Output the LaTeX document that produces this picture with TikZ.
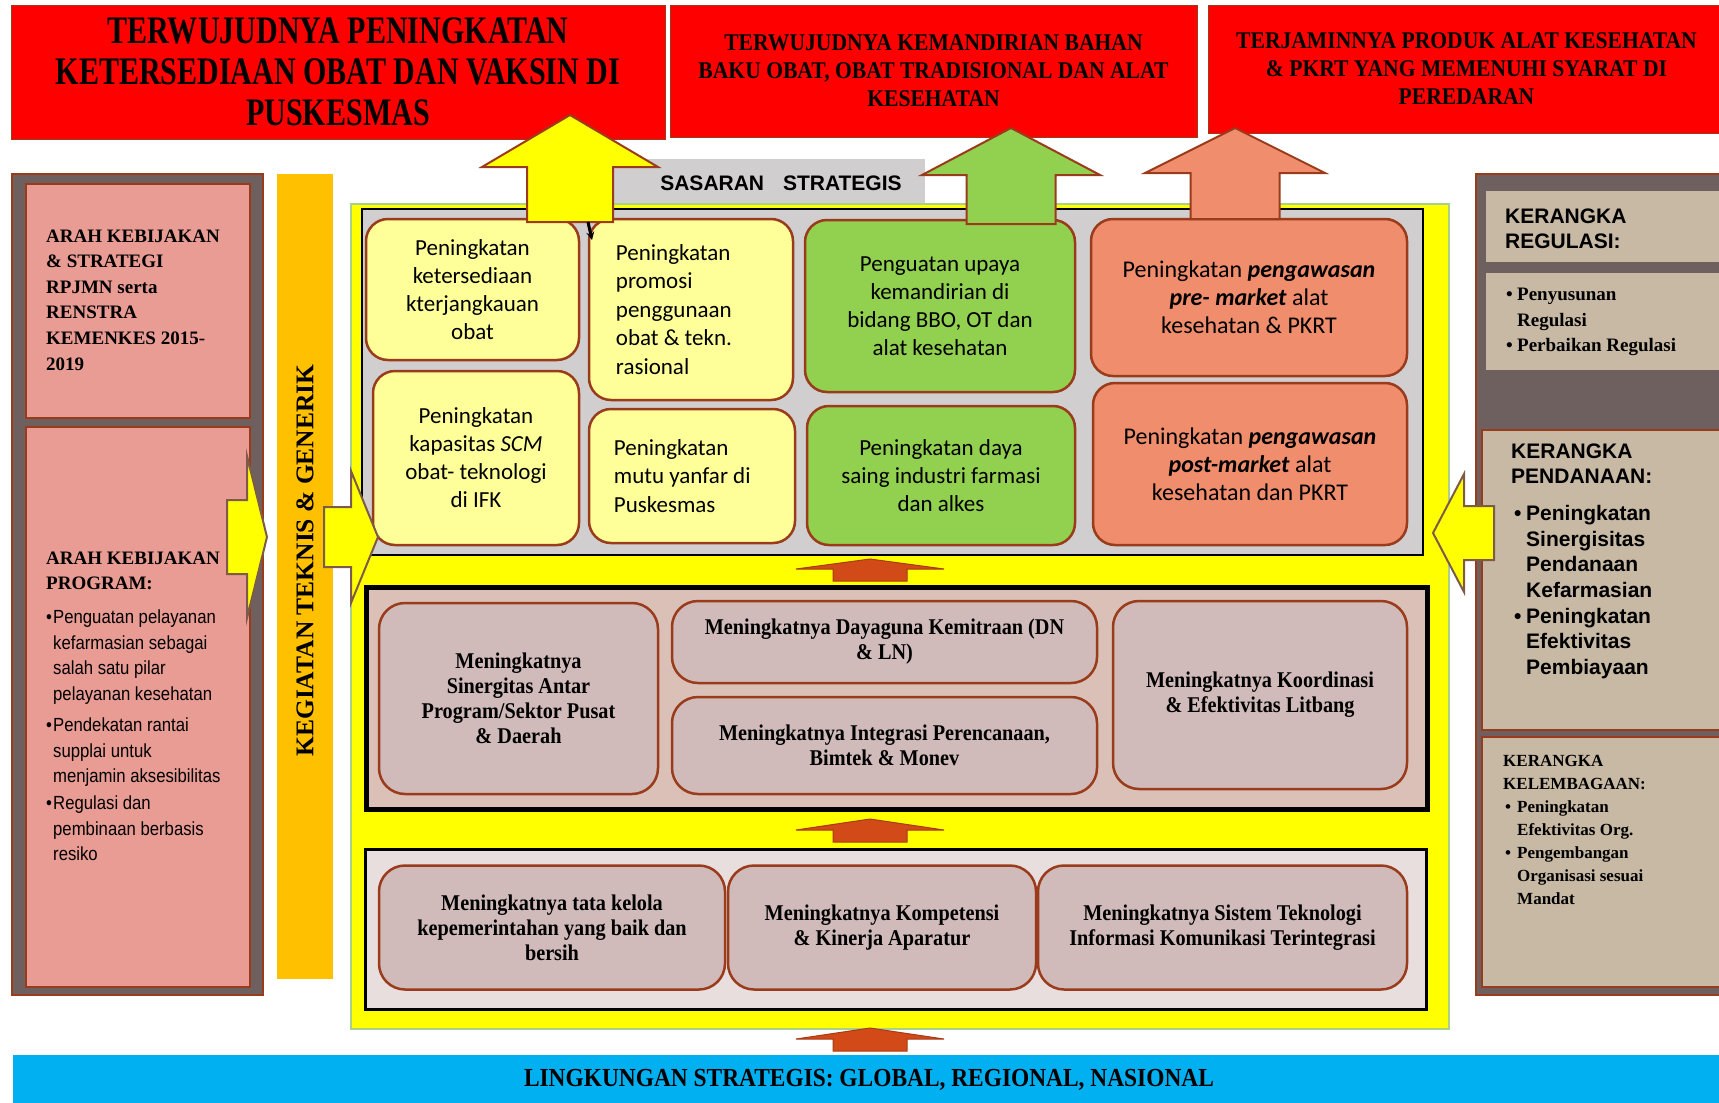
\documentclass[tikz,border=0pt]{standalone}
\usepackage{fontspec}
\setmainfont{Liberation Serif}
\newfontfamily\calfont{Carlito}
\newfontfamily\arialfont{Liberation Sans}
\newfontfamily\narrowsans[FakeStretch=0.88]{Liberation Sans}
\newfontfamily\tallserif[FakeStretch=0.77]{Liberation Serif}
\newfontfamily\condserif[FakeStretch=0.9]{Liberation Serif}
\usetikzlibrary{arrows.meta,positioning}

\definecolor{redban}{HTML}{FF0000}
\definecolor{brownline}{HTML}{9A3B1B}
\definecolor{yel}{HTML}{FFFF00}
\definecolor{lyel}{HTML}{FFFF99}
\definecolor{grn}{HTML}{92D050}
\definecolor{salm}{HTML}{F08D6C}
\definecolor{graybg}{HTML}{D0CECE}
\definecolor{ltgrn}{HTML}{A9D18E}
\definecolor{midfill}{HTML}{DAC0B6}
\definecolor{mauve}{HTML}{D0BABA}
\definecolor{botfill}{HTML}{E8DEDE}
\definecolor{dkpanel}{HTML}{6F6060}
\definecolor{pinkbox}{HTML}{E99C93}
\definecolor{orangebar}{HTML}{FFC000}
\definecolor{tanbox}{HTML}{C7B9A3}
\definecolor{skyban}{HTML}{00B0F0}
\definecolor{smallarr}{HTML}{D24A18}
\definecolor{arrline}{HTML}{7E5A48}

\newcommand{\fsz}[2]{\fontsize{#1}{#2}\selectfont}
\newcommand{\itemdot}[1]{\makebox[#1][l]{•}}
\newcommand{\itemgap}[1]{\hspace*{#1}}
% block arrows: style, centre, tip, head base, tail, head half width, shaft half width
\newcommand{\upblock}[7]{\draw[#1] (#2,#3) -- (#2+#6,#4) -- (#2+#7,#4) -- (#2+#7,#5) -- (#2-#7,#5) -- (#2-#7,#4) -- (#2-#6,#4) -- cycle;}
\newcommand{\sideblock}[7]{\draw[#1] (#3,#2) -- (#4,#2-#6) -- (#4,#2-#7) -- (#5,#2-#7) -- (#5,#2+#7) -- (#4,#2+#7) -- (#4,#2+#6) -- cycle;}

\begin{document}
\begin{tikzpicture}[x=1pt,y=-1pt,
  banner/.style={draw=brownline, line width=1, fill=redban, align=center, inner sep=0},
  panel/.style={draw=brownline, line width=2, inner sep=0},
  ybox/.style={draw=brownline, line width=2.5, rounded corners=22, fill=lyel, inner sep=0, align=center, font=\calfont\fsz{23}{28}},
  gbox/.style={ybox, fill=grn},
  sbox/.style={ybox, fill=salm, font=\calfont\fsz{24}{28}},
  mbox/.style={draw=brownline, line width=2.5, rounded corners=26, fill=mauve, inner sep=0, align=center, font=\condserif\bfseries\fsz{22.5}{25}},
  txt/.style={inner sep=0, align=left},
  bigarrow/.style={draw=brownline, line width=2},
  sidearrow/.style={draw=arrline, line width=2, fill=yel},
  smallarrow/.style={draw=smallarr!80!black, line width=1, fill=smallarr}
]
\useasboundingbox (0,0) rectangle (1719,1103);

% goal banners
\node[banner, minimum width=654, minimum height=134, font=\tallserif\bfseries\fsz{39}{41}] (goal1) at (338,72) {TERWUJUDNYA PENINGKATAN\\KETERSEDIAAN OBAT DAN VAKSIN DI\\PUSKESMAS};
\node[banner, minimum width=527, minimum height=132, font=\condserif\bfseries\fsz{24}{28}] (goal2) at (933.5,71) {TERWUJUDNYA KEMANDIRIAN BAHAN\\BAKU OBAT, OBAT TRADISIONAL DAN ALAT\\KESEHATAN};
\node[banner, minimum width=517, minimum height=128, font=\condserif\bfseries\fsz{24}{28}] (goal3) at (1466.5,69) {TERJAMINNYA PRODUK ALAT KESEHATAN\\\& PKRT YANG MEMENUHI SYARAT DI\\PEREDARAN};

% left column
\node[panel, fill=dkpanel, minimum width=251, minimum height=821] (leftpanel) at (137.5,584.5) {};
\node[panel, fill=pinkbox, minimum width=224, minimum height=234] (policy) at (138,301) {};
\node[panel, fill=pinkbox, minimum width=224, minimum height=560] (program) at (138,707) {};
\node[txt, anchor=west, font=\bfseries\fsz{19}{25.6}] (policytxt) at (46,300) {ARAH KEBIJAKAN\\\& STRATEGI\\RPJMN serta\\RENSTRA\\KEMENKES 2015-\\2019};
\node[txt, anchor=west, font=\bfseries\fsz{19}{25.6}] (programhead) at (46,571) {ARAH KEBIJAKAN\\PROGRAM:};
\node[txt, anchor=west, font=\narrowsans\fsz{19}{25.5}] (programtxt) at (46,735.5) {\itemdot{7pt}Penguatan pelayanan\\\itemgap{7pt}kefarmasian sebagai\\\itemgap{7pt}salah satu pilar\\\itemgap{7pt}pelayanan kesehatan\\[6pt]\itemdot{7pt}Pendekatan rantai\\\itemgap{7pt}supplai untuk\\\itemgap{7pt}menjamin aksesibilitas\\[1.5pt]\itemdot{7pt}Regulasi dan\\\itemgap{7pt}pembinaan berbasis\\\itemgap{7pt}resiko};
\node[inner sep=0, fill=orangebar, minimum width=56, minimum height=805] (kegiatan) at (305,576.5) {};
\node[rotate=90, inner sep=0, font=\bfseries\fsz{25.5}{28}] (kegiatantxt) at (305,560.5) {KEGIATAN TEKNIS \& GENERIK};

% right column
\node[panel, fill=dkpanel, minimum width=254, minimum height=821] (rightpanel) at (1603,584.5) {};
\node[inner sep=0, fill=tanbox, minimum width=240, minimum height=71] (regulasi) at (1606,226.5) {};
\node[inner sep=0, fill=tanbox, minimum width=240, minimum height=97] (regulasilist) at (1606,321.5) {};
\node[panel, fill=tanbox, minimum width=248, minimum height=300] (pendanaan) at (1606,580) {};
\node[panel, fill=tanbox, minimum width=248, minimum height=250] (kelembagaan) at (1606,862) {};
\node[txt, anchor=west, font=\arialfont\bfseries\fsz{21}{25}] (regulasitxt) at (1505,228.5) {KERANGKA\\REGULASI:};
\node[txt, anchor=west, font=\bfseries\fsz{19}{25.5}] (regulasiitems) at (1506,322) {\itemdot{11pt}Penyusunan\\\itemgap{11pt}Regulasi\\\itemdot{11pt}Perbaikan Regulasi};
\node[txt, anchor=west, font=\arialfont\bfseries\fsz{21}{25}] (pendanaantxt) at (1511,463.5) {KERANGKA\\PENDANAAN:};
\node[txt, anchor=west, font=\arialfont\bfseries\fsz{21}{25.7}] (pendanaanitems) at (1514,592) {\itemdot{12pt}Peningkatan\\\itemgap{12pt}Sinergisitas\\\itemgap{12pt}Pendanaan\\\itemgap{12pt}Kefarmasian\\\itemdot{12pt}Peningkatan\\\itemgap{12pt}Efektivitas\\\itemgap{12pt}Pembiayaan};
\node[txt, anchor=west, font=\bfseries\fsz{17}{23}] (kelembagaantxt) at (1503,830) {KERANGKA\\KELEMBAGAAN:\\\itemgap{2pt}\itemdot{12pt}Peningkatan\\\itemgap{14pt}Efektivitas Org.\\\itemgap{2pt}\itemdot{12pt}Pengembangan\\\itemgap{14pt}Organisasi sesuai\\\itemgap{14pt}Mandat};

% sasaran strategis
\node[inner sep=0, fill=graybg, minimum width=325, minimum height=45] (sasaranbar) at (762.5,181.5) {};
\node[inner sep=0, font=\arialfont\bfseries\fsz{21}{24}] (sasarantxt) at (781,183) {SASARAN\hspace{0.9em}STRATEGIS};
\node[draw=ltgrn, line width=2, fill=yel, minimum width=1098, minimum height=825, inner sep=0] (frame) at (900,616.5) {};
\node[draw=black, line width=2.5, fill=graybg, minimum width=1061, minimum height=346, inner sep=0] (sasaranpanel) at (892.5,382) {};

\node[ybox, minimum width=213, minimum height=141] (ketersediaan) at (472.5,289.5) {Peningkatan\\ketersediaan\\kterjangkauan\\obat};
\node[ybox, minimum width=204, minimum height=181] (promosi) at (691,309.5) {};
\node[txt, anchor=west, font=\calfont\fsz{23}{28.5}] (promositxt) at ([xshift=28]promosi.west) {Peningkatan\\promosi\\penggunaan\\obat \& tekn.\\rasional};
\node[ybox, minimum width=206, minimum height=174] (scm) at (476,458) {Peningkatan\\kapasitas \textit{SCM}\\obat- teknologi\\di IFK};
\node[ybox, minimum width=206, minimum height=134] (mutu) at (692,476) {};
\node[txt, anchor=west, font=\calfont\fsz{23}{28.5}] (mututxt) at ([xshift=26]mutu.west) {Peningkatan\\mutu yanfar di\\Puskesmas};
\node[gbox, minimum width=270, minimum height=172] (kemandirian) at (940,306) {Penguatan upaya\\kemandirian di\\bidang BBO, OT dan\\alat kesehatan};
\node[gbox, minimum width=268, minimum height=139] (dayasaing) at (941,475.5) {Peningkatan daya\\saing industri farmasi\\dan alkes};
\node[sbox, minimum width=316, minimum height=157] (premarket) at (1249,297.5) {Peningkatan \textbf{\textit{pengawasan}}\\\textbf{\textit{pre- market}} alat\\kesehatan \& PKRT};
\node[sbox, minimum width=314, minimum height=162] (postmarket) at (1250,464) {Peningkatan \textbf{\textit{pengawasan}}\\\textbf{\textit{post-market}} alat\\kesehatan dan PKRT};

% supporting results
\node[draw=black, line width=5, fill=midfill, minimum width=1061, minimum height=222, inner sep=0] (supportpanel) at (896.5,698) {};
\node[mbox, minimum width=279, minimum height=191] (sinergitas) at (518.5,698.5) {Meningkatnya\\Sinergitas Antar\\Program/Sektor Pusat\\\& Daerah};
\node[mbox, minimum width=425, minimum height=82] (kemitraan) at (884.5,642) {Meningkatnya Dayaguna Kemitraan (DN\\\& LN)};
\node[mbox, minimum width=425, minimum height=97] (integrasi) at (884.5,745.5) {Meningkatnya Integrasi Perencanaan,\\Bimtek \& Monev};
\node[mbox, minimum width=294, minimum height=188] (litbang) at (1260,695) {Meningkatnya Koordinasi\\\& Efektivitas Litbang};

\node[draw=black, line width=2.5, fill=botfill, minimum width=1061, minimum height=160, inner sep=0] (basepanel) at (896,929.5) {};
\node[mbox, minimum width=346, minimum height=124] (tatakelola) at (552,927.5) {Meningkatnya tata kelola\\kepemerintahan yang baik dan\\bersih};
\node[mbox, minimum width=308, minimum height=124] (kompetensi) at (882,927.5) {Meningkatnya Kompetensi\\\& Kinerja Aparatur};
\node[mbox, minimum width=369, minimum height=124] (sistemti) at (1222.5,927.5) {Meningkatnya Sistem Teknologi\\Informasi Komunikasi Terintegrasi};

\node[fill=skyban, minimum width=1712, minimum height=50, inner sep=0, font=\condserif\bfseries\fsz{26}{28}] (lingkungan) at (869,1080) {LINGKUNGAN STRATEGIS: GLOBAL, REGIONAL, NASIONAL};

% arrows
\upblock{smallarrow}{870}{559}{569}{581}{74}{37}
\upblock{smallarrow}{870}{819}{830}{842}{74}{37}
\upblock{smallarrow}{870}{1028}{1039}{1051}{74}{37}
\upblock{bigarrow, fill=yel}{570}{115}{167}{222}{88}{43}
\upblock{bigarrow, fill=grn}{1011}{128}{175}{224}{89}{44.5}
\upblock{bigarrow, fill=salm}{1235}{128}{173}{219}{90}{44.5}
\sideblock{sidearrow}{537}{267}{247}{227}{81}{37}
\sideblock{sidearrow}{537}{378}{351}{324}{66}{30}
\sideblock{sidearrow}{533}{1433}{1464}{1494}{59}{27}
\coordinate (kinkstart) at (588,222);
\coordinate (kinkend) at (592,240);
\draw[line width=3, -{Stealth[length=8pt,width=8pt]}] (kinkstart) -- (kinkend);
\end{tikzpicture}
\end{document}
